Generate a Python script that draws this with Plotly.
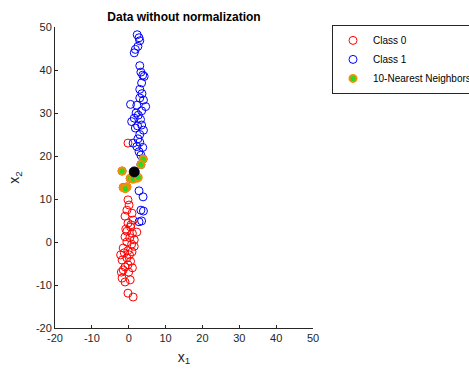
import plotly.graph_objects as go

# Class 0 (red)
class0_x = [-0.2, -1.8, 0.4, -1.5, -0.5, -1.0, -0.2, 0.1, -0.5, 0.9, -1.0, 1.2, -0.2, 0.5, -0.8,
            2.2, 1.0, -1.0, 0.3, 1.5, -0.5, 0.8, -1.5, 0.9, -0.2, 0.2, -0.5, -1.8, 0.5, -0.2,
            -1.0, -1.5, -2.0, 0.0, -1.8, 0.4, -1.0, -0.2, 1.2, -2.2, 1.5, 0.6, -0.5, 1.0, -1.2]
class0_y = [23.0, 16.5, 14.8, 12.7, 12.8, 12.5, 9.8, 8.6, 7.4, 6.7, 6.0, 5.1, 4.4, 3.5, 3.0,
            2.3, 2.0, 1.2, 1.0, 0.5, 0.0, -0.5, -1.4, -2.3, -2.0, -3.0, -3.7, -4.2, -4.5, -5.3,
            -5.8, -6.5, -7.0, -7.0, -8.4, -8.8, -9.3, -11.9, -12.8, -3.0, -1.0, 4.0, 2.5, -6.0, -2.5]

# Class 1 (blue)
class1_x = [2.3, 2.8, 3.0, 2.5, 1.8, 1.5, 3.0, 3.3, 3.8, 4.2, 3.5, 3.0, 3.6, 3.0, 4.0, 4.6,
            0.5, 2.2, 3.5, 2.0, 2.6, 1.5, 3.2, 0.8, 2.4, 3.5, 1.8, 4.0, 3.0, 2.5, 1.2, 3.0,
            2.2, 3.8, 2.8, 3.3, 3.9, 3.3, 2.2, 2.8, 3.9, 3.3, 4.0, 2.8, 3.5]
class1_y = [48.2, 47.5, 46.8, 45.5, 44.8, 44.0, 41.0, 39.5, 38.8, 38.5, 37.0, 35.5, 34.5, 33.5, 33.0, 31.5,
            32.0, 31.8, 30.5, 30.0, 29.5, 28.8, 28.5, 28.0, 27.0, 27.2, 26.5, 26.0, 25.0, 24.0, 23.0, 23.2,
            22.2, 22.0, 21.0, 20.2, 19.3, 18.0, 15.0, 11.9, 10.5, 7.4, 7.2, 4.7, 4.9]

# 10 nearest neighbours
nn_x = [3.9, 3.3, -1.8, 0.4, 2.2, 1.2, -1.5, -0.5, -0.9, 2.6]
nn_y = [19.3, 18.0, 16.5, 14.8, 14.8, 14.6, 12.6, 12.8, 12.4, 15.0]

# query point
query_x = [1.5]
query_y = [16.3]

x_ticks = [-20, -10, 0, 10, 20, 30, 40, 50]
x_ticklabels = ["-20", "-10", "0", "10", "20", "30", "40", "50"]
y_ticks = [-20, -10, 0, 10, 20, 30, 40, 50]
y_ticklabels = ["-20", "-10", "0", "10", "20", "30", "40", "50"]

fig = go.Figure()
fig.add_trace(go.Scatter(x=class0_x, y=class0_y, mode="markers", name="Class 0",
                         marker=dict(symbol="circle-open", size=8, color="#ff0000",
                                     line=dict(width=1, color="#ff0000"))))
fig.add_trace(go.Scatter(x=class1_x, y=class1_y, mode="markers", name="Class 1",
                         marker=dict(symbol="circle-open", size=8, color="#0000ff",
                                     line=dict(width=1, color="#0000ff"))))
fig.add_trace(go.Scatter(x=nn_x, y=nn_y, mode="markers", name="10-Nearest Neighbors",
                         marker=dict(symbol="circle", size=7, color="#22dd22",
                                     line=dict(width=2, color="#f0900a"))))
fig.add_trace(go.Scatter(x=query_x, y=query_y, mode="markers", showlegend=False,
                         marker=dict(symbol="circle", size=10, color="#000000",
                                     line=dict(width=1, color="#000030"))))

axis_common = dict(showgrid=False, zeroline=False, showline=True, linecolor="#262626",
                   linewidth=1, ticks="inside", ticklen=3, tickcolor="#262626",
                   tickfont=dict(size=11, color="#262626"), mirror=False)

fig.update_layout(
    width=469, height=372,
    margin=dict(l=55, r=156, t=27, b=44, autoexpand=False),
    paper_bgcolor="white", plot_bgcolor="white",
    font=dict(family="Liberation Sans, Arial, sans-serif", color="#262626"),
    title=dict(text="<b>Data without normalization</b>", x=(55 + 313) / 2 / 469, xanchor="center",
               y=1 - 17 / 372, yanchor="middle", font=dict(size=12, color="#000000")),
    xaxis=dict(range=[-20, 50], tickvals=x_ticks, ticktext=x_ticklabels,
               title=dict(text="x<sub>1</sub>", font=dict(size=14), standoff=8),
               **axis_common),
    yaxis=dict(range=[-20, 50], tickvals=y_ticks, ticktext=y_ticklabels,
               title=dict(text="x<sub>2</sub>", font=dict(size=14), standoff=12),
               **axis_common),
    legend=dict(x=(332 - 55) / 258, y=1.007, xanchor="left", yanchor="top", bgcolor="white",
                bordercolor="#262626", borderwidth=1, font=dict(size=10, color="#000000"),
                tracegroupgap=0),
)

fig.write_html("out.html")
